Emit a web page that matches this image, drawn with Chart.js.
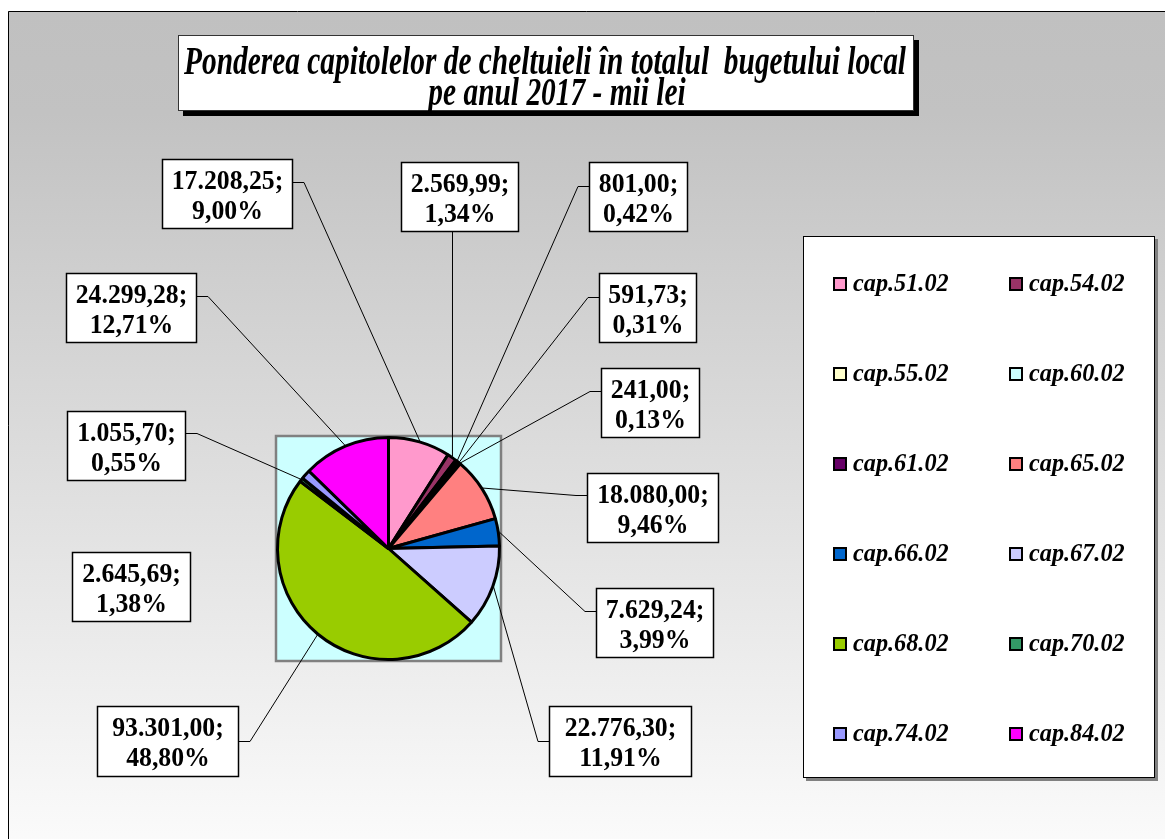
<!DOCTYPE html>
<html>
<head>
<meta charset="utf-8">
<script src="https://cdn.jsdelivr.net/npm/chart.js@4.4.1/dist/chart.umd.min.js"></script>
<style>
html,body{margin:0;padding:0;background:#fff;}
canvas{display:block;}
</style>
</head>
<body>
<canvas id="c" width="1165" height="839"></canvas>
<script>
// ---- data ----
const categories = ["cap.51.02","cap.54.02","cap.55.02","cap.60.02","cap.61.02","cap.65.02","cap.66.02","cap.67.02","cap.68.02","cap.70.02","cap.74.02","cap.84.02"];
const values = [17208.25, 2569.99, 801.00, 591.73, 241.00, 18080.00, 7629.24, 22776.30, 93301.00, 1055.70, 2645.69, 24299.28];
const percents = [9.00, 1.34, 0.42, 0.31, 0.13, 9.46, 3.99, 11.91, 48.80, 0.55, 1.38, 12.71];
const titleLines = ["Ponderea capitolelor de cheltuieli în totalul  bugetului local", "pe anul 2017 - mii lei"];

// ---- styles / layout ----
const sliceColors = ["#FF99CC","#993366","#FFFFCC","#CCFFFF","#660066","#FF8080","#0066CC","#CCCCFF","#99CC00","#339966","#9999FF","#FF00FF"];
// label boxes: [x, y, w, h, leader side, leader anchor offset]
const labelBoxes = [
  [162,159,131,70,'r',23],
  [401,162,118,70,'b',0],
  [589,162,99,70,'l',24],
  [599,273,98,70,'l',24],
  [601,368,99,70,'l',23],
  [587,473,132,70,'l',22],
  [596,588,118,70,'l',23],
  [549,706,143,71,'l',35],
  [97,706,142,71,'r',35],
  [67,411,119,70,'r',22],
  [72,552,119,70,null,0],
  [66,273,131,70,'r',23]
];

function fmtNum(v){
  const parts = v.toFixed(2).split('.');
  const int = parts[0].replace(/\B(?=(\d{3})+(?!\d))/g, '.');
  return int + ',' + parts[1];
}
function fmtPct(p){ return p.toFixed(2).replace('.', ',') + '%'; }

function squeezeText(ctx, text, x, y, sx){
  ctx.save();
  ctx.translate(x, y);
  ctx.scale(sx, 1);
  ctx.fillText(text, 0, 0);
  ctx.restore();
}

const bgPlugin = {
  id:'bg',
  beforeDraw(chart){
    const ctx = chart.ctx;
    ctx.save();
    ctx.fillStyle = '#ffffff';
    ctx.fillRect(0,0,chart.width,chart.height);
    const g = ctx.createLinearGradient(0,11,0,860);
    g.addColorStop(0,'#C0C0C0');
    g.addColorStop(0.12,'#C2C2C2');
    g.addColorStop(1,'#FCFCFC');
    ctx.fillStyle = g;
    ctx.fillRect(8,11,chart.width-8,chart.height-11);
    ctx.strokeStyle = '#000';
    ctx.lineWidth = 1;
    ctx.beginPath();
    ctx.moveTo(8.5, chart.height); ctx.lineTo(8.5, 11.5); ctx.lineTo(chart.width, 11.5);
    ctx.stroke();

    // title box
    ctx.fillStyle = '#000';
    ctx.fillRect(183,40,736,76);
    ctx.fillStyle = '#fff';
    ctx.fillRect(178,35,736,76);
    ctx.strokeStyle = '#333';
    ctx.strokeRect(178.5,35.5,735,75);
    ctx.fillStyle = '#000';
    ctx.font = 'italic bold 39px "Liberation Serif", "Times New Roman", serif';
    ctx.textBaseline = 'alphabetic';
    ctx.textAlign = 'center';
    const sx = 722 / ctx.measureText(titleLines[0]).width;
    squeezeText(ctx, titleLines[0], 545, 74, sx);
    squeezeText(ctx, titleLines[1], 557, 105, sx);

    // plot area square
    const a = chart.chartArea;
    ctx.fillStyle = '#CCFFFF';
    ctx.fillRect(a.left, a.top, a.right-a.left, a.bottom-a.top);
    ctx.strokeStyle = '#808080';
    ctx.lineWidth = 2.5;
    ctx.strokeRect(a.left, a.top, a.right-a.left, a.bottom-a.top);
    ctx.restore();
  },
  afterDatasetsDraw(chart){
    const ctx = chart.ctx;
    const meta = chart.getDatasetMeta(0);
    ctx.save();
    // leader lines
    ctx.strokeStyle = '#000';
    ctx.lineWidth = 1;
    meta.data.forEach((el,i)=>{
      const b = labelBoxes[i];
      if(!b || !b[4]) return;
      const p = el.getProps(['x','y','startAngle','endAngle','outerRadius'], true);
      const mid = (p.startAngle + p.endAngle)/2;
      const R = p.outerRadius + 1;
      const px = p.x + Math.cos(mid)*R, py = p.y + Math.sin(mid)*R;
      ctx.beginPath();
      if(b[4]==='b'){
        ctx.moveTo(Math.round(px)+0.5, b[1]+b[3]);
        ctx.lineTo(px, py);
      } else {
        const ax = b[4]==='r' ? b[0]+b[2] : b[0];
        const ay = b[1]+b[5]+0.5;
        const ex = b[4]==='r' ? ax+11 : ax-11;
        ctx.moveTo(ax, ay); ctx.lineTo(ex, ay); ctx.lineTo(px, py);
      }
      ctx.stroke();
    });
    // label boxes
    ctx.font = 'bold 28px "Liberation Serif", "Times New Roman", serif';
    ctx.textAlign = 'center';
    ctx.textBaseline = 'alphabetic';
    labelBoxes.forEach((b,i)=>{
      ctx.fillStyle = '#fff';
      ctx.fillRect(b[0],b[1],b[2],b[3]);
      ctx.strokeStyle = '#000';
      ctx.lineWidth = 1.5;
      ctx.strokeRect(b[0]+0.5,b[1]+0.5,b[2]-1,b[3]-1);
      ctx.fillStyle = '#000';
      const cx = b[0]+b[2]/2;
      squeezeText(ctx, fmtNum(values[i])+';', cx, b[1]+30, 0.92);
      squeezeText(ctx, fmtPct(percents[i]), cx, b[1]+60, 0.92);
    });

    // legend
    ctx.fillStyle = '#808080';
    ctx.fillRect(806,239,352,542);
    ctx.fillStyle = '#fff';
    ctx.fillRect(803,236,352,542);
    ctx.strokeStyle = '#000';
    ctx.lineWidth = 1;
    ctx.strokeRect(803.5,236.5,351,541);
    ctx.font = 'italic bold 25px "Liberation Serif", "Times New Roman", serif';
    ctx.textAlign = 'left';
    ctx.textBaseline = 'middle';
    chart.data.labels.forEach((lab,i)=>{
      const col = i%2, row = Math.floor(i/2);
      const mx = col===0 ? 834 : 1010;
      const my = 284 + row*90;
      ctx.fillStyle = chart.data.datasets[0].backgroundColor[i];
      ctx.fillRect(mx, my-6, 12, 12);
      ctx.strokeStyle = '#000';
      ctx.lineWidth = 2;
      ctx.strokeRect(mx, my-6, 12, 12);
      ctx.fillStyle = '#000';
      squeezeText(ctx, lab, mx+19, my+1, 0.97);
    });
    ctx.restore();
  }
};

new Chart(document.getElementById('c'), {
  type:'pie',
  data:{
    labels: categories,
    datasets:[{
      data: values,
      backgroundColor: sliceColors,
      borderColor:'#000',
      borderWidth:3
    }]
  },
  options:{
    responsive:false,
    animation:false,
    radius:111,
    layout:{padding:{left:276, top:436, right:664, bottom:178}},
    plugins:{legend:{display:false}, tooltip:{enabled:false}, title:{display:false}}
  },
  plugins:[bgPlugin]
});
</script>
</body>
</html>
